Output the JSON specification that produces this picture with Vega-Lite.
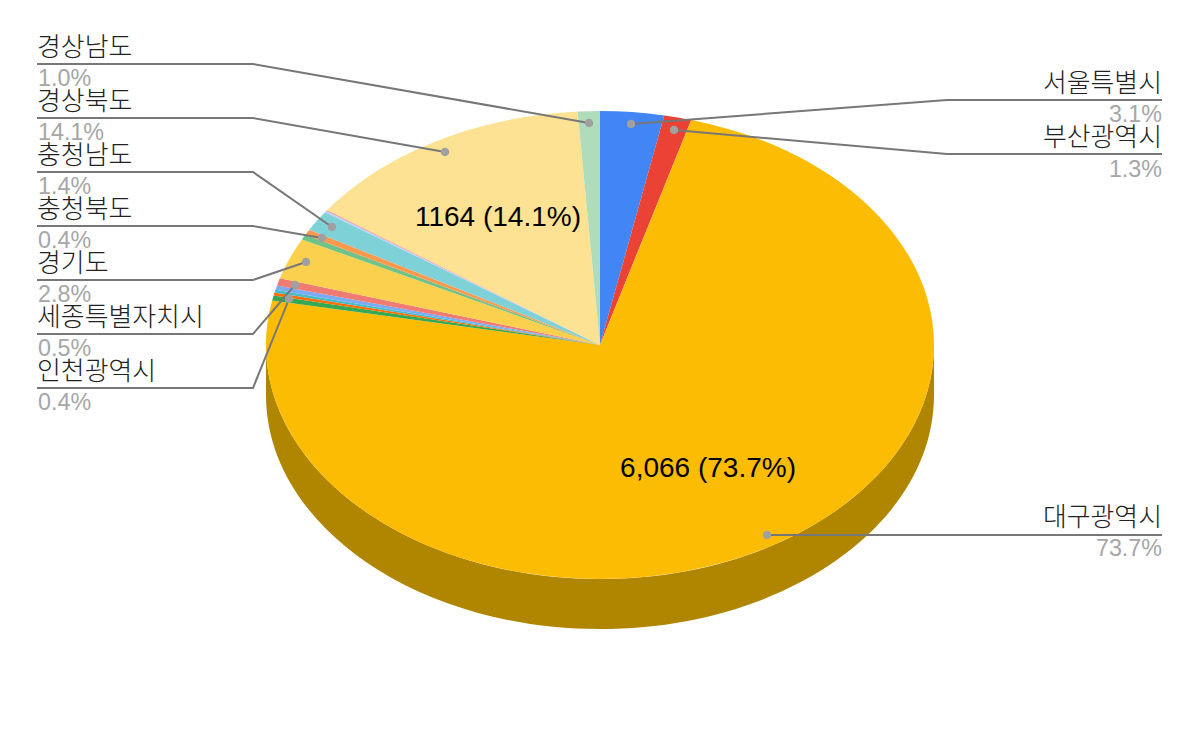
{
"$schema":"https://vega.github.io/schema/vega-lite/v6.json",
"width":1200,"height":742,"padding":0,"autosize":{"type":"none"},
"background":"#ffffff",
"config":{"view":{"stroke":null}},
"datasets":{"regions":[
{"region":"서울특별시","value":254,"pct":"3.1%"},
{"region":"부산광역시","value":109,"pct":"1.3%"},
{"region":"대구광역시","value":6066,"pct":"73.7%","inner":"6,066 (73.7%)"},
{"region":"인천광역시","value":29,"pct":"0.4%"},
{"region":"광주광역시","value":16,"pct":"0.2%"},
{"region":"대전광역시","value":16,"pct":"0.2%"},
{"region":"울산광역시","value":25,"pct":"0.3%"},
{"region":"세종특별자치시","value":41,"pct":"0.5%"},
{"region":"경기도","value":234,"pct":"2.8%"},
{"region":"강원도","value":29,"pct":"0.4%"},
{"region":"충청북도","value":33,"pct":"0.4%"},
{"region":"충청남도","value":115,"pct":"1.4%"},
{"region":"전라북도","value":8,"pct":"0.1%"},
{"region":"전라남도","value":8,"pct":"0.1%"},
{"region":"경상북도","value":1164,"pct":"14.1%","inner":"1164 (14.1%)"},
{"region":"경상남도","value":86,"pct":"1.0%"}
]},
"data":{"name":"regions"},
"resolve":{"scale":{"x":"independent","y":"independent","shape":"independent","color":"independent"}},
"layer":[
{"transform":[{"filter":{"field":"region","equal":"대구광역시"}}],
 "mark":{"type":"point","filled":true,"opacity":1,"size":4,"fill":"#b08500","strokeWidth":0,"shape":"M-334,0A334,234,0,0,0,334,0L334,50A334,234,0,0,1,-334,50Z"},
 "encoding":{"x":{"value":600},"y":{"value":345}}},
{"mark":{"type":"point","filled":true,"opacity":1,"size":4,"strokeWidth":0},
 "encoding":{"x":{"value":600},"y":{"value":345},
  "color":{"field":"region","type":"nominal","legend":null,"scale":{
   "domain":["서울특별시","부산광역시","대구광역시","인천광역시","광주광역시","대전광역시","울산광역시","세종특별자치시","경기도","강원도","충청북도","충청남도","전라북도","전라남도","경상북도","경상남도"],
   "range":["#4285f4","#ea4335","#fdbc04","#34a853","#ff6d01","#46bdc6","#7baaf7","#f07b72","#fcd04f","#71c287","#ff994d","#7ed1d7","#b3cefb","#f7a7a1","#fde293","#afdcbb"]}},
  "shape":{"field":"region","type":"nominal","legend":null,"scale":{
   "domain":["서울특별시","부산광역시","대구광역시","인천광역시","광주광역시","대전광역시","울산광역시","세종특별자치시","경기도","강원도","충청북도","충청남도","전라북도","전라남도","경상북도","경상남도"],
   "range":[
    "M0,0L0,-234A334,234,0,0,1,64.2,-229.6Z",
    "M0,0L64.2,-229.6A334,234,0,0,1,91.2,-225.1Z",
    "M0,0L91.2,-225.1A334,234,0,1,1,-327.9,-44.6Z",
    "M0,0L-327.9,-44.6A334,234,0,0,1,-326.4,-49.6Z",
    "M0,0L-326.4,-49.6A334,234,0,0,1,-325.5,-52.5Z",
    "M0,0L-325.5,-52.5A334,234,0,0,1,-324.5,-55.3Z",
    "M0,0L-324.5,-55.3A334,234,0,0,1,-323,-59.6Z",
    "M0,0L-323,-59.6A334,234,0,0,1,-320.1,-66.7Z",
    "M0,0L-320.1,-66.7A334,234,0,0,1,-298.1,-105.6Z",
    "M0,0L-298.1,-105.6A334,234,0,0,1,-294.7,-110.2Z",
    "M0,0L-294.7,-110.2A334,234,0,0,1,-290.7,-115.3Z",
    "M0,0L-290.7,-115.3A334,234,0,0,1,-275,-132.7Z",
    "M0,0L-275,-132.7A334,234,0,0,1,-273.9,-133.9Z",
    "M0,0L-273.9,-133.9A334,234,0,0,1,-272.7,-135.1Z",
    "M0,0L-272.7,-135.1A334,234,0,0,1,-22.4,-233.5Z",
    "M0,0L-22.4,-233.5A334,234,0,0,1,0,-234Z"]}}}},
{"transform":[{"filter":{"field":"region","oneOf":["대구광역시","경상북도"]}}],
 "mark":{"type":"text","font":"Liberation Sans","fontSize":28,"align":"center","baseline":"alphabetic","fill":"#000000"},
 "encoding":{"text":{"field":"inner"},
  "x":{"field":"region","type":"nominal","axis":null,"scale":{"type":"point","padding":0,"domain":["대구광역시","경상북도"],"range":[708,498]}},
  "y":{"field":"region","type":"nominal","axis":null,"scale":{"type":"point","padding":0,"domain":["대구광역시","경상북도"],"range":[477,226]}}}},
{"transform":[{"filter":{"field":"region","oneOf":["서울특별시","부산광역시","대구광역시","인천광역시","세종특별자치시","경기도","충청북도","충청남도","경상북도","경상남도"]}}],
 "mark":{"type":"point","filled":false,"opacity":1,"size":4,"stroke":"#777777","strokeWidth":2},
 "encoding":{"x":{"value":600},"y":{"value":345},
  "shape":{"field":"region","type":"nominal","legend":null,"scale":{
   "domain":["서울특별시","부산광역시","대구광역시","인천광역시","세종특별자치시","경기도","충청북도","충청남도","경상북도","경상남도"],
   "range":[
    "M562,-245L347,-245L31,-221",
    "M562,-191L347,-191L74,-215",
    "M562,190L167,190",
    "M-563,43L-347,43L-311,-46",
    "M-563,-11L-347,-11L-305,-60",
    "M-563,-65L-347,-65L-294,-83",
    "M-563,-119L-347,-119L-278,-107",
    "M-563,-173L-347,-173L-268,-118",
    "M-563,-227L-347,-227L-155,-193",
    "M-563,-281L-347,-281L-11,-222"]}}}},
{"transform":[{"filter":{"field":"region","oneOf":["서울특별시","부산광역시","대구광역시","인천광역시","세종특별자치시","경기도","충청북도","충청남도","경상북도","경상남도"]}}],
 "mark":{"type":"point","filled":true,"opacity":1,"size":4,"fill":"#a0a0a0","strokeWidth":0},
 "encoding":{"x":{"value":600},"y":{"value":345},
  "shape":{"field":"region","type":"nominal","legend":null,"scale":{
   "domain":["서울특별시","부산광역시","대구광역시","인천광역시","세종특별자치시","경기도","충청북도","충청남도","경상북도","경상남도"],
   "range":[
    "M26.8,-221A4.2,4.2,0,1,1,35.2,-221A4.2,4.2,0,1,1,26.8,-221Z",
    "M69.8,-215A4.2,4.2,0,1,1,78.2,-215A4.2,4.2,0,1,1,69.8,-215Z",
    "M162.8,190A4.2,4.2,0,1,1,171.2,190A4.2,4.2,0,1,1,162.8,190Z",
    "M-315.2,-46A4.2,4.2,0,1,1,-306.8,-46A4.2,4.2,0,1,1,-315.2,-46Z",
    "M-309.2,-60A4.2,4.2,0,1,1,-300.8,-60A4.2,4.2,0,1,1,-309.2,-60Z",
    "M-298.2,-83A4.2,4.2,0,1,1,-289.8,-83A4.2,4.2,0,1,1,-298.2,-83Z",
    "M-282.2,-107A4.2,4.2,0,1,1,-273.8,-107A4.2,4.2,0,1,1,-282.2,-107Z",
    "M-272.2,-118A4.2,4.2,0,1,1,-263.8,-118A4.2,4.2,0,1,1,-272.2,-118Z",
    "M-159.2,-193A4.2,4.2,0,1,1,-150.8,-193A4.2,4.2,0,1,1,-159.2,-193Z",
    "M-15.2,-222A4.2,4.2,0,1,1,-6.8,-222A4.2,4.2,0,1,1,-15.2,-222Z"]}}}},
{"transform":[{"filter":{"field":"region","oneOf":["경상남도","경상북도","충청남도","충청북도","경기도","세종특별자치시","인천광역시"]}}],
 "mark":{"type":"text","font":"Noto Sans CJK KR","fontSize":25.9,"fontWeight":300,"align":"left","baseline":"alphabetic","fill":"#222222"},
 "encoding":{"text":{"field":"region"},"x":{"value":37},
  "y":{"field":"region","type":"nominal","axis":null,"scale":{"type":"point","padding":0,"domain":["경상남도","경상북도","충청남도","충청북도","경기도","세종특별자치시","인천광역시"],"range":[56,380]}}}},
{"transform":[{"filter":{"field":"region","oneOf":["경상남도","경상북도","충청남도","충청북도","경기도","세종특별자치시","인천광역시"]}}],
 "mark":{"type":"text","font":"Liberation Sans","fontSize":23.3,"align":"left","baseline":"alphabetic","fill":"#a6a6a6"},
 "encoding":{"text":{"field":"pct"},"x":{"value":38},
  "y":{"field":"region","type":"nominal","axis":null,"scale":{"type":"point","padding":0,"domain":["경상남도","경상북도","충청남도","충청북도","경기도","세종특별자치시","인천광역시"],"range":[86,410]}}}},
{"transform":[{"filter":{"field":"region","oneOf":["서울특별시","부산광역시"]}}],
 "mark":{"type":"text","font":"Noto Sans CJK KR","fontSize":25.9,"fontWeight":300,"align":"right","baseline":"alphabetic","fill":"#222222"},
 "encoding":{"text":{"field":"region"},"x":{"value":1162},
  "y":{"field":"region","type":"nominal","axis":null,"scale":{"type":"point","padding":0,"domain":["서울특별시","부산광역시"],"range":[92,146]}}}},
{"transform":[{"filter":{"field":"region","oneOf":["서울특별시","부산광역시"]}}],
 "mark":{"type":"text","font":"Liberation Sans","fontSize":23.3,"align":"right","baseline":"alphabetic","fill":"#a6a6a6"},
 "encoding":{"text":{"field":"pct"},"x":{"value":1162},
  "y":{"field":"region","type":"nominal","axis":null,"scale":{"type":"point","padding":0,"domain":["서울특별시","부산광역시"],"range":[122,177]}}}},
{"transform":[{"filter":{"field":"region","equal":"대구광역시"}}],
 "mark":{"type":"text","font":"Noto Sans CJK KR","fontSize":25.9,"fontWeight":300,"align":"right","baseline":"alphabetic","fill":"#222222"},
 "encoding":{"text":{"field":"region"},"x":{"value":1162},"y":{"value":526}}},
{"transform":[{"filter":{"field":"region","equal":"대구광역시"}}],
 "mark":{"type":"text","font":"Liberation Sans","fontSize":23.3,"align":"right","baseline":"alphabetic","fill":"#a6a6a6"},
 "encoding":{"text":{"field":"pct"},"x":{"value":1162},"y":{"value":556}}}
]}
